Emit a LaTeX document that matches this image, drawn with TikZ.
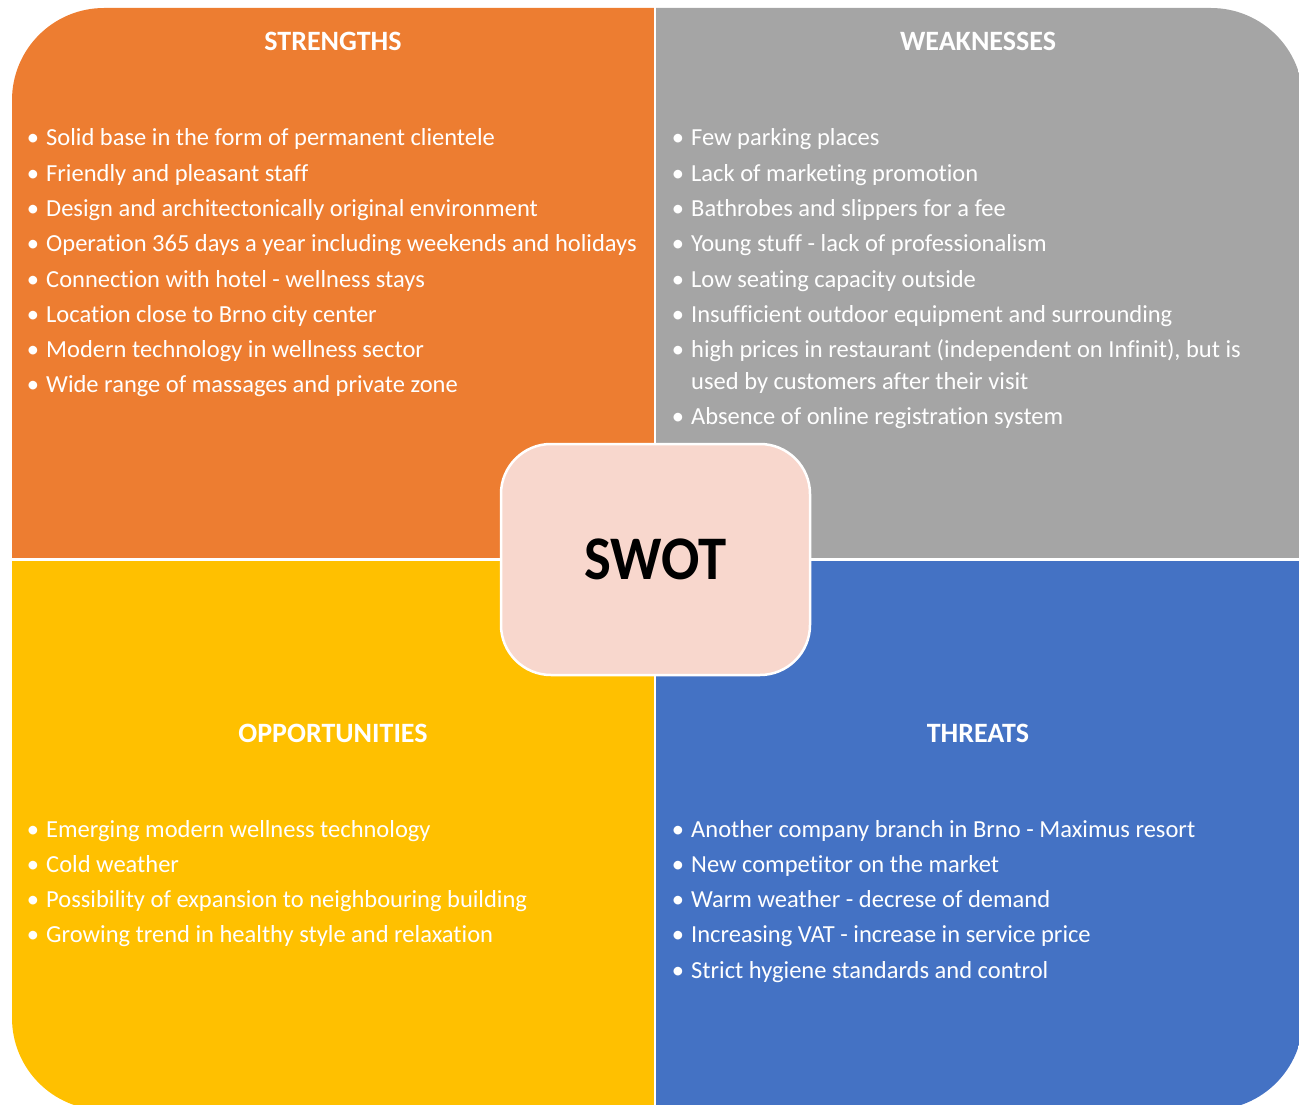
\documentclass[tikz,border=0pt]{standalone}
\usepackage{fontspec}
\setmainfont{Carlito}[Ligatures={NoCommon}]
\definecolor{sorange}{HTML}{ED7D31}
\definecolor{sgray}{HTML}{A5A5A5}
\definecolor{syellow}{HTML}{FFC000}
\definecolor{sblue}{HTML}{4472C4}
\definecolor{spink}{HTML}{F8D7CD}
\tikzset{
  ttl/.style={text=white, font=\fontsize{28}{34}\selectfont\bfseries, inner sep=0pt, anchor=base},
  itm/.style={text=white, font=\fontsize{24.5}{30}\selectfont, inner sep=0pt, anchor=base west},
  bul/.style={text=white, font=\fontsize{24.5}{30}\selectfont, inner sep=0pt, anchor=base},
}
\begin{document}
\begin{tikzpicture}[x=1pt,y=-1pt]
\useasboundingbox (0,0) rectangle (1299,1105);
\begin{scope}
\clip (0,0) rectangle (1299,1105);
\clip[rounded corners=92pt] (12,8) rectangle (1303,1110);
\fill[sorange] (0,0) rectangle (655,559.5);
\fill[sgray] (655,0) rectangle (1310,559.5);
\fill[syellow] (0,559.5) rectangle (655,1120);
\fill[sblue] (655,559.5) rectangle (1310,1120);
\end{scope}
\draw[white, line width=2.5pt] (655,0) -- (655,1105);
\draw[white, line width=2.5pt] (0,559.5) -- (1299,559.5);
\node[draw=white, line width=2.5pt, fill=spink, rounded corners=50pt, minimum width=309pt, minimum height=231pt, inner sep=0pt, font=\fontsize{62}{70}\selectfont\bfseries] (swot) at (655.5,559.5) {\scalebox{0.915}[1]{SWOT}};

\node[ttl] (st) at (333,51) {STRENGTHS};
\node[ttl] (wt) at (978,51) {WEAKNESSES};
\node[ttl] (ot) at (333,742) {OPPORTUNITIES};
\node[ttl] (tt) at (978,742) {THREATS};

% Strengths
\foreach \t [count=\i] in {Solid base in the form of permanent clientele,Friendly and pleasant staff,Design and architectonically original environment,Operation 365 days a year including weekends and holidays,Connection with hotel - wellness stays,Location close to Brno city center,Modern technology in wellness sector,Wide range of massages and private zone}{
  \node[bul] (sb\i) at (33,{146+35.25*(\i-1)}) {•};
  \node[itm] (s\i) at (46,{146+35.25*(\i-1)}) {\t};
}
% Weaknesses
\foreach \t/\yy [count=\i] in {Few parking places/146,Lack of marketing promotion/181.25,Bathrobes and slippers for a fee/216.5,Young stuff - lack of professionalism/251.75,Low seating capacity outside/287,Insufficient outdoor equipment and surrounding/322.25,{high prices in restaurant (independent on Infinit), but is}/357.5,Absence of online registration system/424.5}{
  \node[bul] (wb\i) at (678,\yy) {•};
  \node[itm] (w\i) at (691,\yy) {\t};
}
\node[itm] (w7b) at (691,389) {used by customers after their visit};
% Opportunities
\foreach \t [count=\i] in {Emerging modern wellness technology,Cold weather,Possibility of expansion to neighbouring building,Growing trend in healthy style and relaxation}{
  \node[bul] (ob\i) at (33,{837+35.25*(\i-1)}) {•};
  \node[itm] (o\i) at (46,{837+35.25*(\i-1)}) {\t};
}
% Threats
\foreach \t [count=\i] in {Another company branch in Brno - Maximus resort,New competitor on the market,Warm weather - decrese of demand,Increasing VAT - increase in service price,Strict hygiene standards and control}{
  \node[bul] (tb\i) at (678,{837+35.25*(\i-1)}) {•};
  \node[itm] (t\i) at (691,{837+35.25*(\i-1)}) {\t};
}
\end{tikzpicture}
\end{document}
